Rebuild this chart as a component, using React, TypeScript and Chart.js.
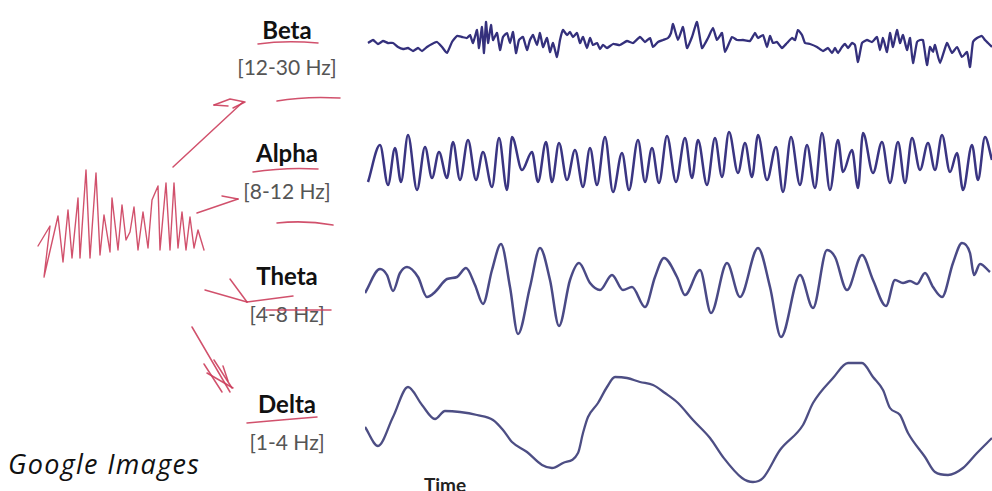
import React, { useEffect, useRef } from "react";
import { Chart, registerables } from "chart.js";

Chart.register(...registerables);

// ---- Band labels ----
const bandNames = ["Beta", "Alpha", "Theta", "Delta"];
const bandRanges = ["[12-30 Hz]", "[8-12 Hz]", "[4-8 Hz]", "[1-4 Hz]"];
const sourceLabel = "Google Images";
const timeLabel = "Time";

// ---- Beta wave (sample, amplitude) ----
const betaT = [3, 8, 13, 18, 23, 28, 33, 38, 43, 48, 53, 57, 62, 67, 72, 77, 82, 87, 92, 97, 102, 105, 108, 112, 114, 117, 119, 121, 123, 126, 128, 132, 135, 138, 142, 145, 148, 151, 154, 158, 162, 165, 168, 172, 175, 178, 182, 185, 188, 192, 195, 198, 202, 205, 208, 212, 215, 218, 222, 225, 228, 232, 235, 238, 242, 248, 255, 262, 268, 275, 280, 285, 288, 293, 298, 303, 306, 308, 313, 318, 322, 327, 332, 337, 343, 348, 352, 357, 360, 367, 372, 378, 385, 390, 393, 398, 402, 405, 408, 412, 417, 422, 427, 430, 433, 437, 440, 445, 452, 458, 463, 467, 470, 473, 477, 480, 483, 487, 490, 493, 497, 502, 507, 512, 515, 518, 522, 525, 528, 532, 535, 538, 542, 545, 548, 552, 555, 558, 562, 565, 568, 570, 575, 582, 587, 592, 597, 602, 605, 608, 612, 617, 620, 623, 627];
const betaV = [1, 4, 0, 3, 1, 1, -3, -5, -4, -7, -4, -7, -3, 0, 2, -3, -9, 2, 8, 7, 6, 9, 1, 14, -4, 17, -9, 22, 1, 19, 4, 11, -6, 7, 11, 1, 12, -9, 4, 7, -6, 4, 9, -1, 11, -3, 6, -8, 1, -13, 4, 14, 9, 12, 7, 11, 1, 7, -4, 6, -1, 1, -5, -1, -4, 0, -1, 3, 1, 7, 2, 6, -3, 2, 4, 6, 11, 20, 4, 17, -4, 7, 22, -4, 6, 16, 4, 11, -8, 7, 4, 4, 3, 11, 6, 9, -3, 8, 1, 2, -4, 1, 6, 4, 14, 9, 1, 0, -3, -7, -4, -9, -4, -9, -3, 0, -4, 1, -1, -18, 1, 4, 2, 7, -6, 6, -8, 11, -3, 14, 1, 9, -6, 6, -19, 2, 4, 4, -21, -3, -8, -1, -19, 1, -9, -3, -13, -8, -23, 2, 6, 8, 4, 1, -3];

// ---- Alpha wave ----
const alphaT = [3, 15, 23, 30, 36, 43, 52, 60, 67, 74, 82, 88, 95, 103, 111, 118, 127, 134, 142, 147, 157, 167, 173, 181, 187, 194, 202, 210, 218, 225, 232, 240, 248, 257, 264, 273, 280, 287, 294, 302, 311, 320, 327, 333, 342, 350, 357, 364, 373, 380, 387, 393, 402, 411, 418, 426, 435, 442, 450, 457, 465, 473, 478, 487, 493, 498, 508, 517, 525, 533, 540, 547, 555, 563, 570, 577, 585, 592, 598, 607, 613, 620, 627];
const alphaV = [-20, 17, -23, 14, -20, 27, -28, 15, -16, 10, -16, 20, -18, 22, -18, 10, -25, 24, -28, 25, -8, 10, -20, 20, -20, 19, -18, 12, -25, 14, -23, 25, -30, 9, -28, 22, -20, 14, -21, 26, -20, 24, -16, 22, -23, 24, -15, 30, -11, 19, -15, 27, -18, 15, -30, 25, -23, 17, -26, 29, -28, 22, -10, 12, -26, 29, -11, 20, -21, 20, -21, 24, -8, 19, -8, 27, -10, 9, -28, 17, -18, 25, 2];

// ---- Theta wave ----
const thetaT = [0, 15, 22, 28, 35, 42, 53, 62, 70, 82, 92, 101, 110, 118, 127, 136, 145, 153, 165, 175, 185, 194, 205, 214, 225, 235, 247, 258, 267, 280, 290, 299, 312, 320, 335, 346, 362, 375, 393, 405, 416, 435, 448, 462, 470, 482, 497, 508, 521, 530, 538, 545, 552, 560, 568, 577, 588, 597, 605, 609, 615, 625];
const thetaV = [-5, 19, 13, -3, 15, 21, 11, -9, -4, 9, 11, 20, 3, -16, 18, 44, 1, -46, 1, 40, 8, -38, 8, 25, 5, -2, 13, -2, 1, -19, 11, 30, 11, -7, 18, -25, 25, -9, 40, 1, -49, 13, -20, 38, 31, -2, 33, 8, -18, 8, 5, 7, 4, 15, 1, -9, 25, 45, 35, 13, 24, 16];

// ---- Delta wave ----
const deltaT = [0, 13, 28, 43, 57, 70, 80, 95, 112, 128, 138, 147, 162, 177, 187, 198, 213, 218, 223, 233, 242, 250, 262, 275, 288, 300, 313, 328, 345, 358, 377, 388, 398, 415, 438, 448, 468, 483, 497, 508, 518, 525, 535, 543, 560, 570, 583, 598, 612, 627];
const deltaV = [-7, -26, 3, 33, 15, 1, 9, 8, 5, 0, -10, -22, -32, -45, -48, -43, -33, -13, 3, 17, 33, 43, 42, 38, 35, 27, 17, 0, -18, -37, -58, -62, -58, -30, -5, 17, 42, 57, 57, 43, 30, 12, 5, -13, -37, -52, -55, -48, -33, -18];

const toPoints = (t: number[], v: number[]) => t.map((x, i) => ({ x, y: v[i] }));

const W = 992;
const H = 491;

// hand-drawn red annotations (decoration, drawn in canvas pixel space)
const inkPlugin = {
  id: "ink",
  afterDraw(chart: any) {
    const ctx: CanvasRenderingContext2D = chart.ctx;
    ctx.save();
    ctx.strokeStyle = "rgba(204,62,92,0.9)";
    ctx.lineWidth = 1.5;
    ctx.lineCap = "round";
    ctx.lineJoin = "round";
    const poly = (pts: number[][]) => {
      ctx.beginPath();
      pts.forEach(([x, y], i) => (i ? ctx.lineTo(x, y) : ctx.moveTo(x, y)));
      ctx.stroke();
    };
    const curve = (x0: number, y0: number, cx: number, cy: number, x1: number, y1: number) => {
      ctx.beginPath();
      ctx.moveTo(x0, y0);
      ctx.quadraticCurveTo(cx, cy, x1, y1);
      ctx.stroke();
    };
    // underlines / dashes
    curve(258, 44, 285, 40, 318, 43);
    curve(277, 101, 305, 96, 340, 98);
    curve(253, 172, 285, 167, 318, 169);
    curve(277, 223, 305, 220, 333, 225);
    curve(247, 423, 280, 420, 317, 417);
    // arrow to Beta
    poly([[173, 167], [243, 102]]);
    poly([[214, 105], [230, 99], [245, 102], [233, 108]]);
    poly([[214, 105], [228, 106]]);
    // arrow to Alpha
    poly([[197, 213], [238, 199]]);
    poly([[222, 196], [238, 199]]);
    // arrow to Theta
    poly([[205, 290], [247, 302]]);
    poly([[230, 279], [247, 302]]);
    poly([[247, 302], [293, 296]]);
    poly([[266, 310], [331, 310]]);
    // arrow toward Delta with hatch
    poly([[192, 327], [230, 392]]);
    poly([[204, 364], [222, 392]]);
    poly([[214, 360], [232, 388]]);
    poly([[223, 366], [228, 381]]);
    poly([[207, 373], [233, 388]]);
    // scribble
    ctx.lineWidth = 1.4;
    poly([
      [38, 246], [50, 226], [44, 277], [58, 216], [63, 262], [68, 210], [72, 258], [78, 198], [80, 258],
      [86, 170], [90, 258], [96, 173], [100, 255], [104, 215], [110, 252], [112, 198], [118, 250],
      [122, 205], [126, 240], [130, 232], [134, 207], [138, 250], [143, 212], [148, 248], [152, 200],
      [158, 186], [160, 250], [166, 183], [170, 250], [174, 183], [178, 248], [182, 212], [186, 250],
      [190, 217], [194, 248], [198, 230], [204, 250],
    ]);
    ctx.restore();
  },
};

type LabelProps = {
  text: string;
  cx: number;
  top: number;
  size: number;
  weight?: number;
  color?: string;
  italic?: boolean;
  family?: string;
  left?: number;
  spacing?: number;
};

function Label({ text, cx, top, size, weight = 400, color = "#111", italic = false, family = "Lato, 'Open Sans', sans-serif", left, spacing = 0 }: LabelProps) {
  const style: React.CSSProperties = {
    position: "absolute",
    top,
    fontSize: size,
    lineHeight: 1,
    fontWeight: weight,
    fontStyle: italic ? "italic" : "normal",
    fontFamily: family,
    color,
    whiteSpace: "nowrap",
    letterSpacing: spacing,
  };
  if (left !== undefined) {
    style.left = left;
  } else {
    style.left = cx - 100;
    style.width = 200;
    style.textAlign = "center";
  }
  return <div style={style}>{text}</div>;
}

export default function App() {
  const ref = useRef<HTMLCanvasElement | null>(null);

  useEffect(() => {
    document.body.style.margin = "0";
    const canvas = ref.current;
    if (!canvas) return;
    const common = { pointRadius: 0, fill: false, xAxisID: "x", cubicInterpolationMode: "monotone" as const };
    const chart = new Chart(canvas, {
      type: "line",
      data: {
        datasets: [
          { ...common, label: bandNames[0], data: toPoints(betaT, betaV), yAxisID: "yBeta", borderColor: "#34307c", borderWidth: 2.3, cubicInterpolationMode: "default", tension: 0.15 },
          { ...common, label: bandNames[1], data: toPoints(alphaT, alphaV), yAxisID: "yAlpha", borderColor: "#3a3582", borderWidth: 2.5 },
          { ...common, label: bandNames[2], data: toPoints(thetaT, thetaV), yAxisID: "yTheta", borderColor: "#4a4a86", borderWidth: 2.5 },
          { ...common, label: bandNames[3], data: toPoints(deltaT, deltaV), yAxisID: "yDelta", borderColor: "#4d4e84", borderWidth: 2.3 },
        ] as any,
      },
      options: {
        responsive: false,
        animation: false,
        events: [],
        devicePixelRatio: 1,
        layout: { padding: { left: 365, right: 0, top: 0, bottom: 0 } },
        plugins: { legend: { display: false }, tooltip: { enabled: false } },
        scales: {
          x: { type: "linear", min: 0, max: 627, display: false },
          yBeta: { type: "linear", min: 44 - H, max: 44, display: false },
          yAlpha: { type: "linear", min: 162 - H, max: 162, display: false },
          yTheta: { type: "linear", min: 288 - H, max: 288, display: false },
          yDelta: { type: "linear", min: 420 - H, max: 420, display: false },
        },
      },
      plugins: [inkPlugin],
    });
    return () => chart.destroy();
  }, []);

  const nameTops = [18, 141, 264, 392];
  const rangeTops = [56, 180, 303, 431];

  return (
    <div style={{ position: "relative", width: W, height: H, overflow: "hidden", background: "#fff" }}>
      {bandNames.map((n, i) => (
        <Label key={n} text={n} cx={287} top={nameTops[i]} size={24} weight={700} color="#111" />
      ))}
      {bandRanges.map((r, i) => (
        <Label key={r} text={r} cx={287} top={rangeTops[i]} size={21} weight={400} color="#555" />
      ))}
      <Label text={sourceLabel} cx={0} left={8} top={450} size={27} italic family="'Open Sans', sans-serif" color="#111" spacing={1.3} />
      <Label text={timeLabel} cx={445} top={475} size={19} weight={700} color="#222" />
      <canvas ref={ref} width={W} height={H} style={{ position: "absolute", left: 0, top: 0 }} />
    </div>
  );
}
